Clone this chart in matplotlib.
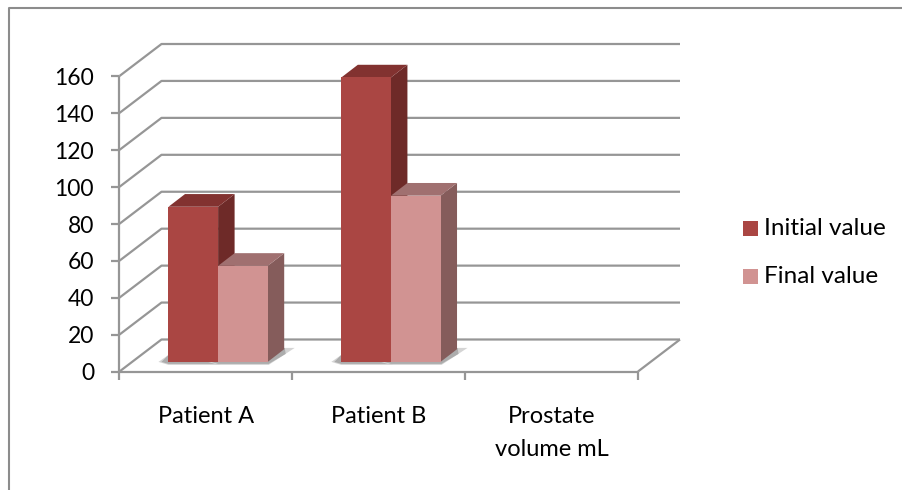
import matplotlib
matplotlib.use("Agg")
import matplotlib.pyplot as plt
from matplotlib.patches import Polygon, Rectangle

categories = ["Patient A", "Patient B", "Prostate\nvolume mL"]
initial_value = [84, 154]
final_value = [52, 90]
y_ticks = list(range(0, 161, 20))

RED = "#AA4643"
RED_TOP = "#823230"
RED_SIDE = "#6E2A28"
PINK = "#D19392"
PINK_TOP = "#A07070"
PINK_SIDE = "#855C5B"
GRID = "#969696"

W, H = 903, 490
plt.rcParams["font.family"] = ["Lato", "DejaVu Sans"]

fig = plt.figure(figsize=(W / 100, H / 100), dpi=100)
# front plane of the fake 3d box, pixels from the picture
left, right, bottom, top = 119.5, 638, 371.5, 76
ax = fig.add_axes([left / W, 1 - bottom / H, (right - left) / W, (bottom - top) / H])
ax.set_xlim(0, 3)
ax.set_ylim(0, 160)
ax.axis("off")

px_x = 3 / (right - left)
px_y = 160 / (bottom - top)
back_x, back_y = 42 * px_x, 32 * px_y
bar_dx, bar_dy = 16.5 * px_x, 12.7 * px_y
base_y = 9.6 * px_y
bar_w = 49.6 * px_x
bar_start = 0.2835


def line(xs, ys, lw=1.6):
    ax.plot(xs, ys, color=GRID, lw=lw, clip_on=False, solid_capstyle="butt", zorder=1)


for v in y_ticks:
    line([0, back_x, 3 + back_x], [v, v + back_y, v + back_y])
    line([-8 * px_x, 0], [v, v])
line([0, 0], [0, 160])
line([0, 3], [0, 0])
line([3, 3 + back_x], [0, back_y])
for i in range(4):
    line([i, i], [0, -8.5 * px_y])


def bar3d(x, v, face, top_c, side_c):
    y0, y1 = base_y, v + base_y
    x1 = x + bar_w
    # soft shadow on the floor, two layers fake the fade
    for grow, color in [(0, "#D4D4D4"), (3, "#ACACAC")]:
        pts = [(x - (10 - grow) * px_x, y0), (x, y0 + 7 * px_y), (x1, y0 + 7 * px_y),
               (x1 + 17 * px_x, y0 + 14 * px_y), (x1 + (27 - 3 * grow) * px_x, y0 + (14 - 2 * grow) * px_y),
               (x1 + 1 * px_x, y0 + (-3 + grow / 3) * px_y), (x, y0 + (-3 + grow / 3) * px_y)]
        ax.add_patch(Polygon(pts, fc=color, ec="none", zorder=2, clip_on=False))
    ax.add_patch(Polygon([(x1, y0), (x1 + bar_dx, y0 + bar_dy), (x1 + bar_dx, y1 + bar_dy), (x1, y1)],
                         fc=side_c, ec="none", zorder=3, clip_on=False))
    ax.add_patch(Polygon([(x, y1), (x + bar_dx, y1 + bar_dy), (x1 + bar_dx, y1 + bar_dy), (x1, y1)],
                         fc=top_c, ec="none", zorder=3, clip_on=False))
    ax.add_patch(Rectangle((x, y0), bar_w, v, fc=face, ec="none", zorder=4, clip_on=False))


for i in range(len(initial_value)):
    bar3d(i + bar_start, initial_value[i], RED, RED_TOP, RED_SIDE)
    bar3d(i + bar_start + bar_w, final_value[i], PINK, PINK_TOP, PINK_SIDE)

for v in y_ticks:
    ax.text(-25.5 * px_x, v - 2.3 * px_y, str(v), ha="right", va="center", fontsize=16.5, color="black")
for i, c in enumerate(categories):
    ax.text(i + 0.5, -34 * px_y, c, ha="center", va="top", fontsize=17, color="black",
            linespacing=1.75, clip_on=False)

# legend drawn by hand in figure pixels, like the office one
for y, c, label in [(228.5, RED, "Initial value"), (276.5, PINK, "Final value")]:
    fig.add_artist(Rectangle((743 / W, 1 - (y + 7.5) / H), 15 / W, 15 / H, fc=c, ec="none",
                             transform=fig.transFigure))
    fig.text(764 / W, 1 - y / H, label, ha="left", va="center", fontsize=17.5, color="black")

# outer chart border
fig.add_artist(plt.Line2D([8.5 / W, 8.5 / W, 1], [0, 1 - 8.5 / H, 1 - 8.5 / H],
                          color="#8C8C8C", lw=1.5, transform=fig.transFigure))

fig.savefig("out.png", dpi=100)
